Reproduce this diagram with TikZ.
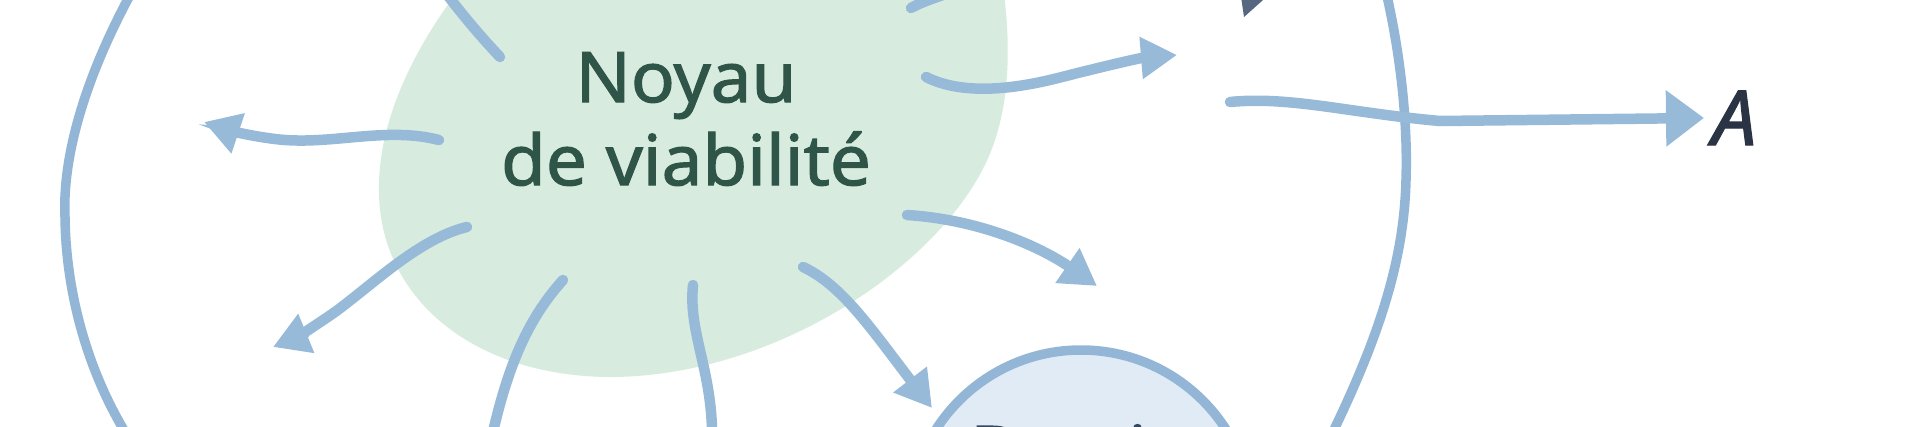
\documentclass[tikz,border=0pt]{standalone}
\usepackage{fontspec}
\setmainfont{Noto Sans}
\newfontfamily\diagfont{Noto Sans}[FakeBold=1.6, FakeStretch=1.04]
\usetikzlibrary{arrows.meta}
\definecolor{flow}{HTML}{98BAD9}
\definecolor{ring}{HTML}{93B6D7}
\definecolor{kernelfill}{HTML}{D7ECDF}
\definecolor{kerneltext}{HTML}{2F5548}
\definecolor{basinfill}{HTML}{E1EBF6}
\definecolor{basintext}{HTML}{34495E}
\definecolor{darkhead}{HTML}{56687F}
\definecolor{labeltext}{HTML}{2B3444}
\begin{document}
\begin{tikzpicture}[x=1pt,y=-1pt,
  flowline/.style={draw=flow, line width=10.5pt, line cap=round},
  flowarrow/.style={flowline, -{Triangle[length=36pt,width=40pt]}},
  bigarrow/.style={flowline, -{Triangle[length=38pt,width=54pt]}},
  ringline/.style={draw=ring, line width=9.5pt},
  bigtext/.style={font=\diagfont\fontsize{70}{83}\selectfont, inner sep=0pt},
]
\useasboundingbox (0,0) rectangle (1920,426);
\clip (0,0) rectangle (1920,426);
\fill[white] (0,0) rectangle (1920,426);

% kernel blob
\fill[kernelfill] (520,-80) .. controls (440,0) and (376,100) .. (379,195)
  .. controls (382,300) and (475,378) .. (615,377)
  .. controls (790,374) and (960,250) .. (995,140)
  .. controls (1015,80) and (1010,0) .. (990,-80) -- cycle;

% outer ring
\draw[ringline] (150,-40) .. controls (90,60) and (62,150) .. (65,217)
  .. controls (66,300) and (92,390) .. (145,462);
\draw[ringline] (1378,-40) .. controls (1400,40) and (1408,120) .. (1406,180)
  .. controls (1404,260) and (1380,340) .. (1318,462);

% basin
\node[circle, draw=ring, fill=basinfill, line width=9.5pt, minimum size=344pt, inner sep=0pt] (basin) at (1081,522) {};
\node[bigtext, text=basintext, anchor=base] (bassin) at (1081,476) {Bassin};

% texts
\node[bigtext, text=kerneltext, align=center, anchor=north] (kernel) at (686,52) {Noyau\\de viabilité};
\node[font=\diagfont\fontsize{76}{90}\selectfont\itshape, text=labeltext, inner sep=0pt, anchor=base west] (A) at (1712,145) {A};

% endpoints
\coordinate (tl0) at (445,-8);   \coordinate (tl1) at (500,57);
\coordinate (tp0) at (911,8);    \coordinate (tp1) at (962,-12);
\coordinate (l0) at (439,140);   \coordinate (l1) at (204,122);
\coordinate (ll0) at (467,227);  \coordinate (ll1) at (273,347);
\coordinate (b10) at (563,280);  \coordinate (b11) at (490,445);
\coordinate (b20) at (693,285);  \coordinate (b21) at (712,445);
\coordinate (d0) at (803,267);   \coordinate (d1) at (932,408);
\coordinate (r20) at (907,215);  \coordinate (r21) at (1097,286);
\coordinate (r10) at (926,77);   \coordinate (r11) at (1177,55);
\coordinate (a0) at (1230,102);

% lines leaving the picture
\draw[flowline] (tl0) .. controls (465,18) and (482,38) .. (tl1);
\draw[flowline] (tp0) .. controls (925,0) and (945,-5) .. (tp1);
\draw[flowline] (b10) .. controls (525,322) and (506,372) .. (b11);
\draw[flowline] (b20) .. controls (688,335) and (714,372) .. (b21);

% arrows
\draw[flowarrow] (l0) .. controls (385,126) and (330,146) .. (275,139) .. controls (250,136) and (228,130) .. (l1);
\draw[flowarrow] (ll0) .. controls (420,238) and (372,285) .. (335,312) .. controls (312,328) and (295,338) .. (ll1);
\draw[flowarrow] (d0) .. controls (842,285) and (872,330) .. (d1);
\draw[flowarrow] (r20) .. controls (985,220) and (1045,250) .. (r21);
\draw[flowarrow] (r10) .. controls (962,95) and (1012,90) .. (1062,77) .. controls (1105,66) and (1140,58) .. (r11);
\draw[bigarrow, shorten >=8pt] (a0) .. controls (1290,96) and (1350,113) .. (1440,121) -- (A.west);

% dark arrow head entering from above
\fill[darkhead] (1240,-10) -- (1272,-8) -- (1244,17) -- cycle;
\end{tikzpicture}
\end{document}
